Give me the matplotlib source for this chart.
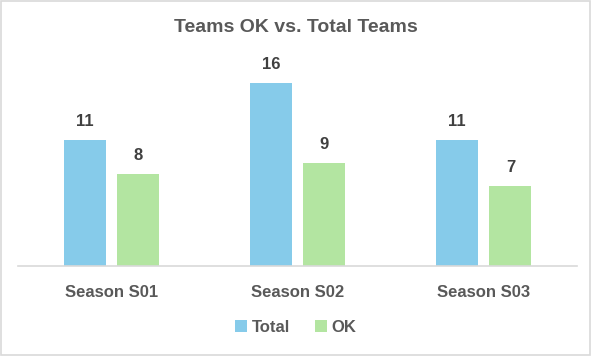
import numpy as np
import matplotlib.pyplot as plt
from matplotlib.patches import Rectangle

plt.rcParams['font.family'] = ['Liberation Sans', 'DejaVu Sans']

# Data
seasons = ['Season S01', 'Season S02', 'Season S03']
total_teams = [11, 16, 11]
ok_teams = [8, 9, 7]

blue = '#86CBEA'
green = '#B3E5A1'

fig = plt.figure(figsize=(5.92, 3.56), dpi=100)
ax = fig.add_axes([18 / 592, 1 - 266 / 356, 559 / 592, 216 / 356])

x = np.arange(len(seasons))
w = 42 / 186
off = 26.5 / 186
b1 = ax.bar(x - off, total_teams, w, color=blue, label='Total')
b2 = ax.bar(x + off, ok_teams, w, color=green, label='OK')

for bars in (b1, b2):
    for rect in bars:
        ax.annotate(f'{int(rect.get_height())}',
                    (rect.get_x() + rect.get_width() / 2, rect.get_height()),
                    xytext=(0, 8), textcoords='offset points',
                    ha='center', va='bottom', fontsize=12, fontweight='bold',
                    color='#404040')

ax.set_xlim(-0.5, 2.5)
ax.set_ylim(0, 18.86)
ax.set_xticks(x)
ax.set_xticklabels(seasons, fontsize=12, fontweight='bold', color='#595959')
ax.tick_params(axis='x', length=0, pad=14)
ax.set_yticks([])
for s in ['top', 'left', 'right']:
    ax.spines[s].set_visible(False)
ax.spines['bottom'].set_color('#D9D9D9')
ax.spines['bottom'].set_linewidth(1.2)

fig.text(0.5, 1 - 28 / 356, 'Teams OK vs. Total Teams', ha='center', va='center',
         fontsize=14, fontweight='bold', color='#595959')

fig.legend(handles=[b1, b2], loc='center', bbox_to_anchor=(0.5, 1 - 327 / 356),
           ncol=2, frameon=False, handlelength=0.7, handleheight=0.7,
           handletextpad=0.3, columnspacing=1.5, labelcolor='#595959',
           prop={'weight': 'bold', 'size': 12})

fig.patches.append(Rectangle((0.002, 0.003), 0.995, 0.994, transform=fig.transFigure,
                             fill=False, edgecolor='#D9D9D9', linewidth=1.2))

fig.savefig('out.png', dpi=100)
